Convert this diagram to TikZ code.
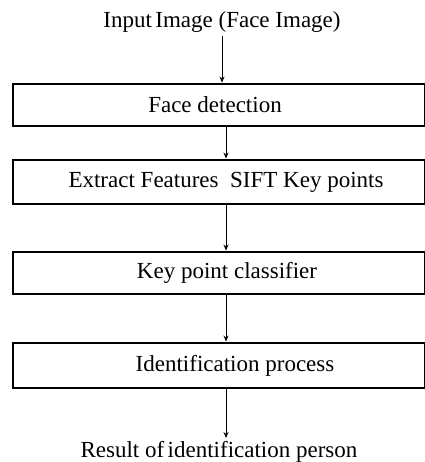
\documentclass[tikz,border=0pt]{standalone}
\usepackage{fontspec}
\setmainfont{Liberation Serif}
\usetikzlibrary{arrows.meta}
\begin{document}
\begin{tikzpicture}[x=1pt,y=-1pt,
  stepbox/.style={draw=black,line width=2.9pt,rectangle,minimum width=412pt,inner sep=0pt},
  lbl/.style={font=\fontsize{23}{27}\selectfont,inner sep=0pt},
  flow/.style={draw=black,line width=0.8pt,-{Stealth[length=6pt,width=5pt]}}]
\useasboundingbox (0,0) rectangle (424,462);
\node[stepbox,minimum height=42pt] (b1) at (219,105) {};
\node[stepbox,minimum height=44pt] (b2) at (219,182) {};
\node[stepbox,minimum height=42pt] (b3) at (219,273) {};
\node[stepbox,minimum height=45pt] (b4) at (219,365.5) {};
\node[lbl] (in) at (222,22) {Input\hspace{0.15em}Image (Face Image)};
\node[lbl] (t1) at (215,105) {Face detection};
\node[lbl] (t2) at (226,182) {Extract Features\hspace{0.5em}SIFT Key points};
\node[lbl] (t3) at (227,273) {Key point classifier};
\node[lbl] (t4) at (235,365.5) {Identification process};
\node[lbl] (out) at (219,452) {Result of\hspace{0.15em}identification person};
\coordinate (a1) at (222,0);
\coordinate (a2) at (226,0);
\coordinate (e5) at (226,438);
\draw[flow] (a1 |- in.south) ++(0,3) -- (a1 |- b1.north);
\draw[flow] (a2 |- b1.south) -- (a2 |- b2.north);
\draw[flow] (a2 |- b2.south) -- (a2 |- b3.north);
\draw[flow] (a2 |- b3.south) -- (a2 |- b4.north);
\draw[flow] (a2 |- b4.south) -- (e5);
\end{tikzpicture}
\end{document}
